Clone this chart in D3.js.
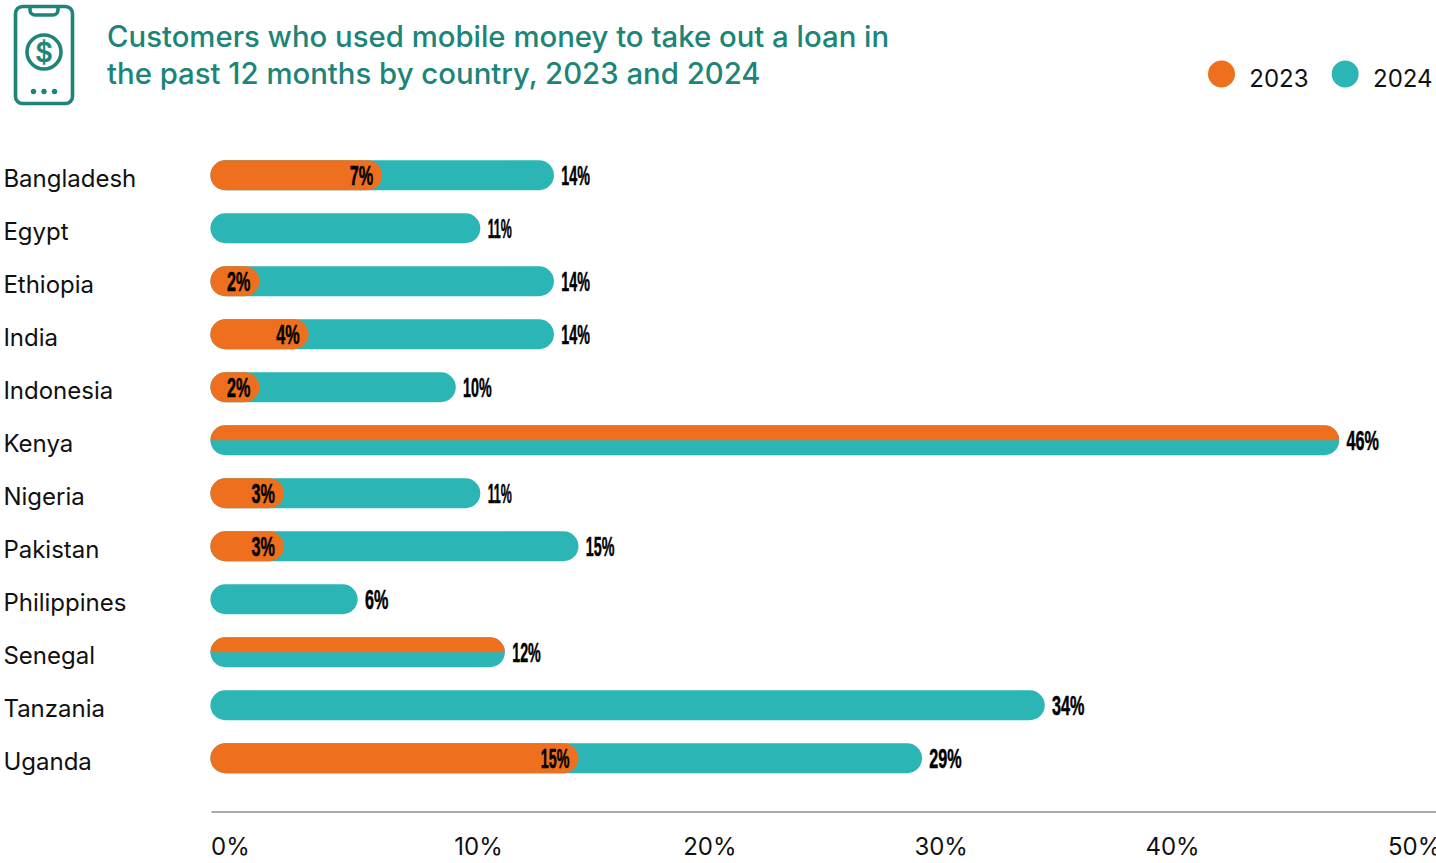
<!DOCTYPE html>
<html>
<head>
<meta charset="utf-8">
<script src="https://cdn.jsdelivr.net/npm/d3@7"></script>
<style>
  html, body { margin: 0; padding: 0; background: #fff; overflow: hidden; }
  svg { display: block; font-family: Inter, "Noto Sans", sans-serif; }
</style>
</head>
<body>
<svg id="chart" width="1436" height="863"></svg>
<script>
const countries = ["Bangladesh","Egypt","Ethiopia","India","Indonesia","Kenya","Nigeria","Pakistan","Philippines","Senegal","Tanzania","Uganda"];
const values2023 = [7,null,2,4,2,46,3,3,null,12,null,15];
const values2024 = [14,11,14,14,10,46,11,15,6,12,34,29];
const axisTicks = [0,10,20,30,40,50];
const legendYears = ["2023","2024"];
const titleLines = ["Customers who used mobile money to take out a loan in","the past 12 months by country, 2023 and 2024"];

const ORANGE = "#ee6f1e", TEAL = "#2bb6b5", GREEN = "#1d8478", INK = "#111";

const svg = d3.select("#chart");
const x = d3.scaleLinear().domain([0,50]).range([210.4,1437.4]);
const y = d3.scaleBand().domain(countries).range([148.75,784.75]).paddingInner(23/53).paddingOuter(11.5/53);
const color = d3.scaleOrdinal().domain(legendYears).range([ORANGE,TEAL]);
const h = y.bandwidth(), r = h/2;

// Header icon: a phone outline with a dollar coin
const icon = svg.append("g").attr("fill","none").attr("stroke",GREEN).attr("stroke-width",3.6);
icon.append("rect").attr("x",15.5).attr("y",6.5).attr("width",57).attr("height",97).attr("rx",7);
icon.append("path").attr("d","M30 7v3a5 5 0 0 0 5 5h18a5 5 0 0 0 5-5V7");
icon.append("circle").attr("cx",44).attr("cy",52).attr("r",17);
icon.append("text").attr("x",44).attr("y",62).attr("text-anchor","middle")
  .attr("fill",GREEN).attr("stroke",GREEN).attr("stroke-width",0.6).attr("font-size",27).attr("font-weight",500).text("$");
icon.selectAll("circle.dot").data([-10.5,0,10.5]).join("circle").attr("class","dot")
  .attr("cx",d=>44+d).attr("cy",91.5).attr("r",2.7).attr("fill",GREEN).attr("stroke","none");

// Title
svg.append("g").selectAll("text").data(titleLines).join("text")
  .attr("x",107).attr("y",(d,i)=>47+i*37)
  .attr("fill",GREEN).attr("font-size",29.33).attr("font-weight",500).text(d=>d);

// Legend
const legend = svg.append("g").selectAll("g").data(legendYears).join("g")
  .attr("transform",(d,i)=>`translate(${1221.5+i*123.7},74)`);
legend.append("circle").attr("r",13.5).attr("fill",d=>color(d));
legend.append("text").attr("x",27.8).attr("y",13).attr("fill",INK).attr("font-size",24).text(d=>d);

// Country labels
svg.append("g").selectAll("text").data(countries).join("text")
  .attr("x",3.4).attr("y",d=>y(d)+r+11.5).attr("fill",INK).attr("font-size",24).text(d=>d);

// Clip for rows where both years share a value: 2023 takes the upper half
const defs = svg.append("defs");
const rows = countries.map((c,i)=>({c, a:values2023[i], b:values2024[i]}));
rows.filter(d=>d.a===d.b).forEach(d=>{
  defs.append("clipPath").attr("id","top-"+d.c)
    .append("rect").attr("x",x(0)).attr("y",y(d.c)).attr("width",x(d.a)-x(0)).attr("height",r);
});

// Bars
const pill = (sel,val)=>sel.attr("x",x(0)).attr("y",d=>y(d.c)).attr("height",h).attr("rx",r)
  .attr("width",d=>x(val(d))-x(0));
const bars = svg.append("g");
bars.selectAll("rect.y2024").data(rows).join("rect").attr("class","y2024")
  .call(pill,d=>d.b).attr("fill",color("2024"));
bars.selectAll("rect.y2023").data(rows.filter(d=>d.a!==null)).join("rect").attr("class","y2023")
  .call(pill,d=>d.a).attr("fill",color("2023"))
  .attr("clip-path",d=>d.a===d.b?`url(#top-${d.c})`:null);

// Value labels in a tall condensed face; the digit 1 sets narrower in this style
const squeeze = v => 0.6 - 0.07*(String(v).match(/1/g)||[]).length;
const valueLabel = (sel,val,anchor,dx)=>sel
  .attr("text-anchor",anchor)
  .attr("transform",d=>`translate(${x(val(d))+dx},${y(d.c)+r+9.5}) scale(${squeeze(val(d))},1)`)
  .attr("font-family",'"Liberation Sans Narrow","Liberation Sans",sans-serif')
  .attr("font-size",27).attr("font-weight",700).attr("fill","#000")
  .attr("stroke","#000").attr("stroke-width",0.5)
  .text(d=>val(d)+"%");
const labels = svg.append("g");
labels.selectAll("text.end").data(rows).join("text").attr("class","end").call(valueLabel,d=>d.b,"start",7.3);
labels.selectAll("text.inner").data(rows.filter(d=>d.a!==null&&d.a!==d.b)).join("text").attr("class","inner")
  .call(valueLabel,d=>d.a,"end",-9);

// Axis: rule plus evenly spaced labels, the outer two pinned to the plot edges
const tickX = d3.scaleLinear().domain([10,40]).range([478.5,1172.5]);
const axis = d3.axisBottom(tickX).tickValues(axisTicks).tickSize(0).tickPadding(0).tickFormat(d=>d+"%");
const axisG = svg.append("g").attr("transform","translate(0,812)").call(axis);
axisG.select(".domain").remove();
axisG.append("line").attr("x1",211.5).attr("x2",1436).attr("stroke","#8c8c8c").attr("stroke-width",1.5);
axisG.selectAll(".tick").attr("transform",d=>{
  if (d===0) return "translate(211,0)";
  if (d===50) return "translate(1388,0)";
  return `translate(${tickX(d)},0)`;
});
axisG.selectAll(".tick text")
  .attr("y",43).attr("dy",0).attr("fill",INK).attr("font-size",24)
  .attr("font-family",'Inter, "Noto Sans", sans-serif')
  .attr("text-anchor",d=>(d===0||d===50)?"start":"middle");
</script>
</body>
</html>
